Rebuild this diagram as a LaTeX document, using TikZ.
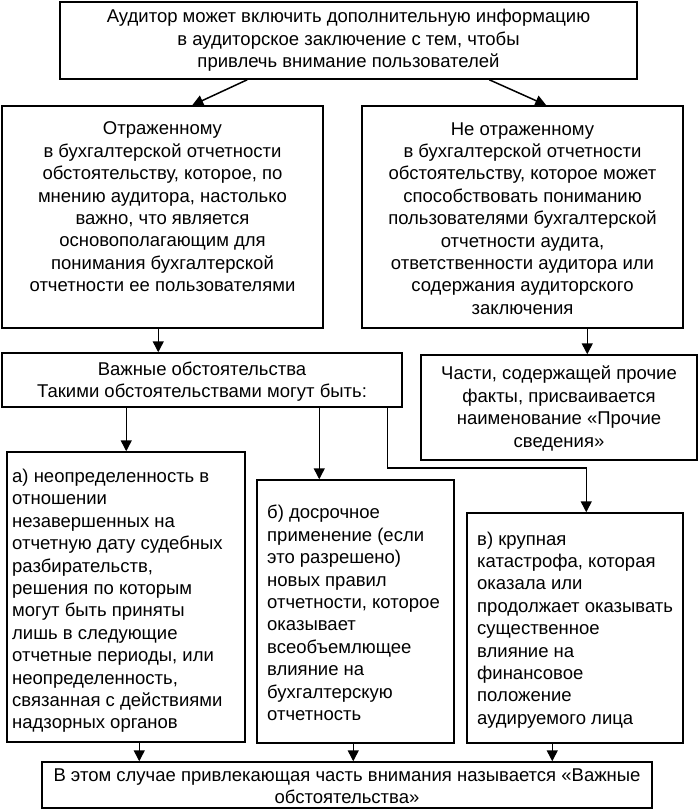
\documentclass[tikz,border=0pt]{standalone}
\usepackage{fontspec}
\setmainfont{Liberation Sans}
\usetikzlibrary{arrows.meta,calc}
\begin{document}
\begin{tikzpicture}[x=1pt,y=-1pt,
  box/.style={draw, line width=1.5pt, inner sep=0pt, fill=white},
  txt/.style={inner sep=0pt, font=\fontsize{18.5pt}{22.4pt}\selectfont},
  arr/.style={line width=1.5pt, -{Triangle[length=11pt,width=11pt]}},
  ln/.style={line width=1.5pt}]
\useasboundingbox[fill=white] (0,0) rectangle (698,810);

% boxes
\node[box, minimum width=577pt, minimum height=77pt] (top) at (348.5,40.5) {};
\node[box, minimum width=321pt, minimum height=222pt] (L) at (162.5,217) {};
\node[box, minimum width=321pt, minimum height=222pt] (R) at (522.5,217) {};
\node[box, minimum width=400pt, minimum height=54pt] (M) at (202,380) {};
\node[box, minimum width=276pt, minimum height=105pt] (P) at (559,407.5) {};
\node[box, minimum width=238pt, minimum height=290pt] (A) at (126,597) {};
\node[box, minimum width=197pt, minimum height=263pt] (B) at (355.5,611.5) {};
\node[box, minimum width=216pt, minimum height=230pt] (C) at (575,628) {};
\node[box, minimum width=610pt, minimum height=46pt] (E) at (347,785) {};

% texts
\node[txt, align=center] (ttop) at (348.5,40.5) {Аудитор может включить дополнительную информацию\\в аудиторское заключение с тем, чтобы\\привлечь внимание пользователей};
\node[txt, align=center] (tL) at (162.5,207) {Отраженному\\в бухгалтерской отчетности\\обстоятельству, которое, по\\мнению аудитора, настолько\\важно, что является\\основополагающим для\\понимания бухгалтерской\\отчетности ее пользователями};
\node[txt, align=center] (tR) at (522.5,218.5) {Не отраженному\\в бухгалтерской отчетности\\обстоятельству, которое может\\способствовать пониманию\\пользователями бухгалтерской\\отчетности аудита,\\ответственности аудитора или\\содержания аудиторского\\заключения};
\node[txt, align=center] (tM) at (202,381.5) {Важные обстоятельства\\Такими обстоятельствами могут быть:};
\node[txt, align=center] (tP) at (559,408.5) {Части, содержащей прочие\\факты, присваивается\\наименование «Прочие\\сведения»};
\node[txt, align=left, anchor=west] (tA) at (12,601) {а) неопределенность в\\отношении\\незавершенных на\\отчетную дату судебных\\разбирательств,\\решения по которым\\могут быть приняты\\лишь в следующие\\отчетные периоды, или\\неопределенность,\\связанная с действиями\\надзорных органов};
\node[txt, align=left, anchor=west] (tB) at (267,613) {б) досрочное\\применение (если\\это разрешено)\\новых правил\\отчетности, которое\\оказывает\\всеобъемлющее\\влияние на\\бухгалтерскую\\отчетность};
\node[txt, align=left, anchor=west] (tC) at (477,630) {в) крупная\\катастрофа, которая\\оказала или\\продолжает оказывать\\существенное\\влияние на\\финансовое\\положение\\аудируемого лица};
\node[txt, align=center] (tE) at (347,786) {В этом случае привлекающая часть внимания называется «Важные\\обстоятельства»};

% connectors
\draw[arr] ($(top.south west)+(188,0)$) -- ($(L.north west)+(191,0)$);
\draw[arr] ($(top.south west)+(430,0)$) -- ($(R.north west)+(185,0)$);
\draw[arr] ($(L.south west)+(157,0)$) -- ($(M.north west)+(157,0)$);
\draw[arr] ($(R.south west)+(226,0)$) -- ($(P.north west)+(167,0)$);
\draw[arr] ($(M.south west)+(125,0)$) -- ($(A.north west)+(120,0)$);
\draw[arr] ($(M.south west)+(318,0)$) -- ($(B.north west)+(63,0)$);
\coordinate (bend) at ($(M.south west)+(386,60)$);
\draw[arr] ($(M.south west)+(386,0)$) -- (bend) -| ($(C.north west)+(120,0)$);
\draw[arr] ($(A.south west)+(133,0)$) -- ($(E.north west)+(98,0)$);
\draw[arr] ($(B.south west)+(97,0)$) -- ($(E.north west)+(312,0)$);
\draw[arr] ($(C.south west)+(86,0)$) -- ($(E.north west)+(511,0)$);
\end{tikzpicture}
\end{document}
